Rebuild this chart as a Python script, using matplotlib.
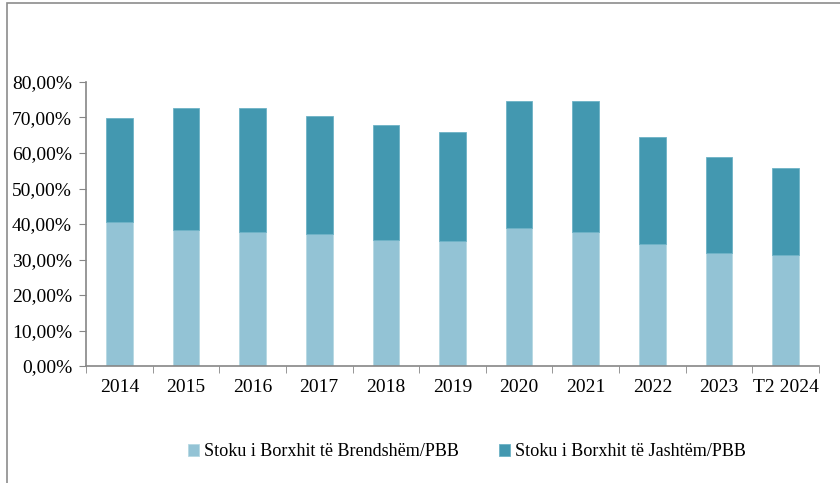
import numpy as np
import matplotlib.pyplot as plt
from matplotlib.patches import Rectangle
from matplotlib.ticker import FuncFormatter, FixedLocator

# Data (share of GDP, %)
years = ['2014', '2015', '2016', '2017', '2018', '2019', '2020', '2021', '2022', '2023', 'T2 2024']
domestic = [40.5, 38.3, 37.8, 37.2, 35.5, 35.2, 39.0, 37.7, 34.3, 31.9, 31.4]
total = [70.0, 72.8, 72.6, 70.4, 67.9, 65.9, 74.6, 74.7, 64.6, 59.0, 55.7]
external = [t - d for t, d in zip(total, domestic)]

labels = ['Stoku i Borxhit të Brendshëm/PBB', 'Stoku i Borxhit të Jashtëm/PBB']
c_dom = '#93c3d5'
c_ext = '#4398b0'

plt.rcParams['font.family'] = ['Liberation Serif', 'DejaVu Serif']

fig = plt.figure(figsize=(8.4, 4.83), dpi=100)
ax = fig.add_axes([86/840, 1 - 366/483, 733/840, 284/483])

x = np.arange(len(years))
ax.bar(x, domestic, width=0.4, color=c_dom, edgecolor='#b5d8e3', linewidth=0.6, label=labels[0])
ax.bar(x, external, width=0.4, bottom=domestic, color=c_ext, edgecolor='#6db2c6', linewidth=0.6, label=labels[1])

ax.set_xlim(-0.5, len(years) - 0.5)
ax.set_ylim(0, 80)
ax.set_yticks(np.arange(0, 81, 10))
ax.yaxis.set_major_formatter(FuncFormatter(lambda v, p: f'{v:.2f}'.replace('.', ',') + '%'))

# category labels at centres, tick marks at boundaries
ax.set_xticks(x)
ax.set_xticklabels(years)
ax.xaxis.set_minor_locator(FixedLocator(np.arange(-0.5, len(years), 1)))
ax.tick_params(axis='x', which='major', length=0, pad=9, labelsize=14)
ax.tick_params(axis='x', which='minor', length=5, color='#868686', direction='out')
ax.tick_params(axis='y', length=5, color='#868686', direction='out', labelsize=14, pad=5)

for s in ['top', 'right']:
    ax.spines[s].set_visible(False)
for s in ['left', 'bottom']:
    ax.spines[s].set_color('#868686')
    ax.spines[s].set_linewidth(1.2)

leg = fig.legend(loc='center', bbox_to_anchor=(467/840, 1 - 452/483), ncol=2, frameon=False,
                 fontsize=13.1, handlelength=0.6, handleheight=0.6, handletextpad=0.3, columnspacing=2.2)

# outer frame of the chart area
fig.patches.append(Rectangle((7/840, -0.02), 1.0, 1 - 3/483 + 0.02, transform=fig.transFigure,
                             fill=False, edgecolor='#8c8c8c', linewidth=1.2))

fig.savefig('out.png', dpi=100)
